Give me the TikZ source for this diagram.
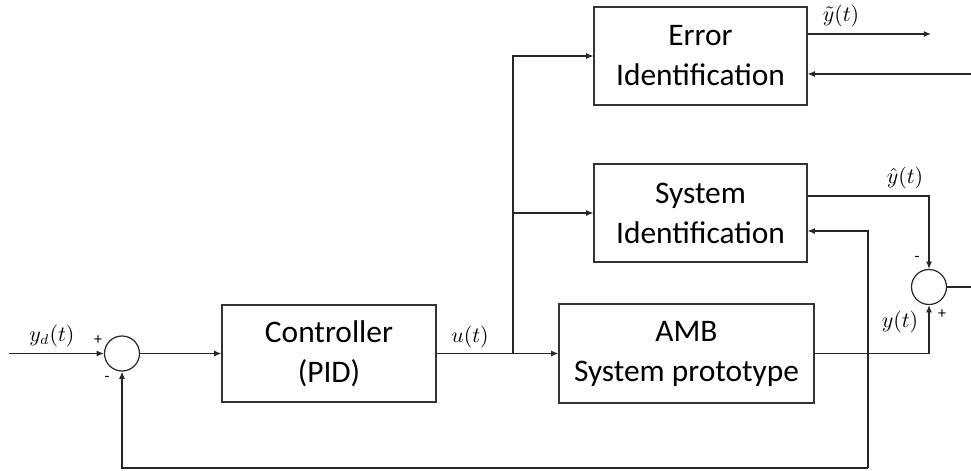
\documentclass[tikz,border=0pt]{standalone}
\usepackage{fontspec}
\setmainfont{Carlito}
\usetikzlibrary{arrows.meta}
\begin{document}
\begin{tikzpicture}[x=0.5pt,y=-0.5pt,
  wire/.style={line width=0.6pt,draw=black!85},
  arr/.style={wire,-{Latex[length=3.6pt,width=3pt]}},
  blk/.style={draw=black!80,line width=0.6pt,inner sep=0pt,align=center,
    font=\fontsize{15.7}{20}\selectfont},
  sumj/.style={circle,draw=black!85,line width=0.6pt,minimum size=17.5pt,inner sep=0pt},
  sig/.style={font=\fontsize{10.5}{12}\selectfont,inner sep=0pt},
  sgn/.style={font=\fontsize{8}{9}\selectfont,inner sep=0pt}]
\useasboundingbox (0,0) rectangle (971,471);

\node[blk,minimum width=106.5pt,minimum height=49pt] (ei) at (700.5,56) {Error\\Identification};
\node[blk,minimum width=106.5pt,minimum height=49pt] (si) at (700.5,213) {System\\Identification};
\node[blk,minimum width=127.5pt,minimum height=49.5pt] (amb) at (686.5,353.5) {AMB\\System prototype};
\node[blk,minimum width=107pt,minimum height=48.5pt] (ctrl) at (329,353.5) {Controller\\(PID)};
\node[sumj] (s1) at (122,353.5) {};
\node[sumj] (s2) at (929,287) {};

\coordinate (in) at (9,353.5);
\coordinate (br) at (513,353.5);
\coordinate (eout) at (931,34);
\coordinate (ein) at (971,74);
\coordinate (yh) at (929,196);
\coordinate (fbtop) at (868,231);
\coordinate (fbbot) at (868,468);
\coordinate (out) at (971,287);

% main path
\draw[arr] (in) -- (s1.west);
\draw[arr] (s1.east) -- (ctrl.west);
\draw[arr] (ctrl.east) -- (amb.west);
\draw[arr] (br) |- (ei.west);
\draw[arr] (br) |- (si.west);

% error identification signals
\draw[arr] (ei.east |- eout) -- (eout);
\draw[arr] (ein) -- (ei.east |- ein);

% system identification
\draw[arr] (si.east |- yh) -- (yh) -- (s2.north);
\draw[arr] (amb.east) -| (s2.south);
\draw[wire] (s2.east) -- (out);

% feedback
\draw[arr] (fbbot) -- (fbtop) -- (si.east |- fbtop);
\draw[arr] (fbbot) -| (s1.south);

% labels
\node[sig] (lyd) at (52,336) {$y_d(t)$};
\node[sig] (lu) at (470,337) {$u(t)$};
\node[sig] (lyt) at (841,16) {$\tilde{y}(t)$};
\node[sig] (lyh) at (905,178) {$\hat{y}(t)$};
\node[sig] (ly) at (900,322) {$y(t)$};
\node[sgn] (p1) at (98,340) {+};
\node[sgn] (m1) at (107,379) {-};
\node[sgn] (p2) at (942,314) {+};
\node[sgn] (m2) at (917,259) {-};
\end{tikzpicture}
\end{document}
